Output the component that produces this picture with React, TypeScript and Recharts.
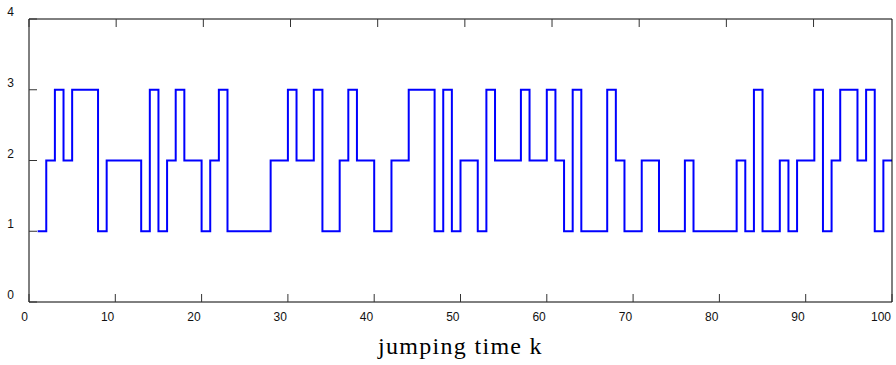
import React from 'react';
import { LineChart, Line, XAxis, YAxis } from 'recharts';

// state r(k) of the Markov chain at each jumping time k = 1..100
const states = [
  1, 2, 3, 2, 3, 3, 3, 1, 2, 2,
  2, 2, 1, 3, 1, 2, 3, 2, 2, 1,
  2, 3, 1, 1, 1, 1, 1, 2, 2, 3,
  2, 2, 3, 1, 1, 2, 3, 2, 2, 1,
  1, 2, 2, 3, 3, 3, 1, 3, 1, 2,
  2, 1, 3, 2, 2, 2, 3, 2, 2, 3,
  2, 1, 3, 1, 1, 1, 3, 2, 1, 1,
  2, 2, 1, 1, 1, 2, 1, 1, 1, 1,
  1, 2, 1, 3, 1, 1, 2, 1, 2, 2,
  3, 1, 2, 3, 3, 2, 3, 1, 2, 2,
];
const xTicks = [0, 10, 20, 30, 40, 50, 60, 70, 80, 90, 100];
const yTicks = [0, 1, 2, 3, 4];
const xLabel = 'jumping time k';

const data = states.map((r, i) => ({ k: i + 1, r }));

const TICK_LEN = 8;
const tickFont = { fontFamily: '"Liberation Sans", Arial, sans-serif', fontSize: 12, fill: '#111' };

const BottomTick = (props: any) => {
  const { x, y, payload } = props;
  return (
    <g>
      <line x1={x} y1={y} x2={x} y2={y - TICK_LEN} stroke="#333" />
      <text x={x - 1} y={y + 19} textAnchor="end" {...tickFont}>{payload.value}</text>
    </g>
  );
};

const TopTick = (props: any) => {
  const { x, y } = props;
  return <line x1={x} y1={y} x2={x} y2={y + TICK_LEN} stroke="#333" />;
};

const LeftTick = (props: any) => {
  const { x, y, payload } = props;
  return (
    <g>
      <line x1={x} y1={y} x2={x + TICK_LEN} y2={y} stroke="#333" />
      <text x={x - 15} y={y - 3} textAnchor="end" {...tickFont}>{payload.value}</text>
    </g>
  );
};

const RightTick = (props: any) => {
  const { x, y } = props;
  return <line x1={x} y1={y} x2={x - TICK_LEN} y2={y} stroke="#333" />;
};

const App: React.FC = () => {
  return (
    <div style={{ position: 'absolute', left: 0, top: 0, background: '#fff' }}>
      <LineChart width={896} height={365} data={data} margin={{ top: 18, right: 3, left: 0, bottom: 0 }}>
        <XAxis
          type="number"
          dataKey="k"
          domain={[0, 100]}
          ticks={xTicks}
          interval={0}
          tickSize={0}
          tickMargin={0}
          height={63}
          axisLine={{ stroke: '#000' }}
          tick={<BottomTick />}
          label={{
            value: xLabel,
            position: 'insideBottom',
            offset: 11,
            style: { fontFamily: '"Liberation Serif", "Times New Roman", serif', fontSize: 24, letterSpacing: 1.3, fill: '#000' },
          }}
        />
        {/* top & right axes only close the frame and carry inward ticks */}
        <XAxis
          xAxisId="top"
          orientation="top"
          type="number"
          domain={[0, 100]}
          ticks={xTicks}
          interval={0}
          tickSize={0}
          tickMargin={0}
          height={1}
          axisLine={{ stroke: '#000' }}
          tick={<TopTick />}
        />
        <YAxis
          type="number"
          domain={[0, 4]}
          ticks={yTicks}
          interval={0}
          tickSize={0}
          tickMargin={0}
          width={29}
          axisLine={{ stroke: '#000' }}
          tick={<LeftTick />}
        />
        <YAxis
          yAxisId="right"
          orientation="right"
          type="number"
          domain={[0, 4]}
          ticks={yTicks}
          interval={0}
          tickSize={0}
          tickMargin={0}
          width={1}
          axisLine={{ stroke: '#000' }}
          tick={<RightTick />}
        />
        <Line
          type="stepAfter"
          dataKey="r"
          stroke="#0000ff"
          strokeWidth={2}
          dot={false}
          activeDot={false}
          isAnimationActive={false}
        />
      </LineChart>
    </div>
  );
};

export default App;
